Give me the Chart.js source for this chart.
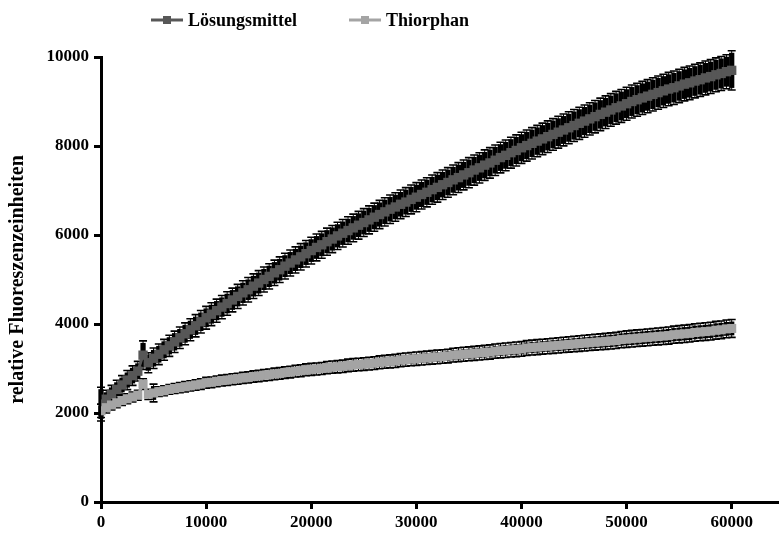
<!DOCTYPE html>
<html>
<head>
<meta charset="utf-8">
<script src="https://cdn.jsdelivr.net/npm/chart.js@4/dist/chart.umd.min.js"></script>
<style>
  html, body { margin: 0; padding: 0; background: #fff; }
  #wrap { width: 779px; height: 533px; }
</style>
</head>
<body>
<div id="wrap"><canvas id="myChart" width="779" height="533"></canvas></div>
<script>
// Messzeitpunkte (x) und Mittelwerte / Standardabweichungen
const zeit = [
  0, 500, 1000, 1500, 2000, 2500, 3000, 3500, 4000, 4500, 5000, 5500, 6000, 6500, 7000, 7500, 8000, 8500, 9000, 9500,
  10000, 10500, 11000, 11500, 12000, 12500, 13000, 13500, 14000, 14500, 15000, 15500, 16000, 16500, 17000, 17500, 18000, 18500, 19000, 19500,
  20000, 20500, 21000, 21500, 22000, 22500, 23000, 23500, 24000, 24500, 25000, 25500, 26000, 26500, 27000, 27500, 28000, 28500, 29000, 29500,
  30000, 30500, 31000, 31500, 32000, 32500, 33000, 33500, 34000, 34500, 35000, 35500, 36000, 36500, 37000, 37500, 38000, 38500, 39000, 39500,
  40000, 40500, 41000, 41500, 42000, 42500, 43000, 43500, 44000, 44500, 45000, 45500, 46000, 46500, 47000, 47500, 48000, 48500, 49000, 49500,
  50000, 50500, 51000, 51500, 52000, 52500, 53000, 53500, 54000, 54500, 55000, 55500, 56000, 56500, 57000, 57500, 58000, 58500, 59000, 59500,
  60000
];

const loesungsmittel = [
  2200, 2310, 2420, 2530, 2630, 2740, 2840, 2940, 3300, 3130, 3230, 3320, 3420, 3510, 3600, 3690, 3780, 3870, 3960, 4050,
  4140, 4220, 4300, 4380, 4460, 4540, 4620, 4700, 4770, 4850, 4920, 5000, 5070, 5150, 5220, 5300, 5370, 5440, 5510, 5580,
  5650, 5720, 5780, 5850, 5910, 5980, 6040, 6100, 6160, 6220, 6280, 6340, 6400, 6460, 6520, 6580, 6630, 6690, 6740, 6800,
  6850, 6910, 6960, 7020, 7070, 7130, 7180, 7240, 7290, 7350, 7400, 7460, 7510, 7570, 7620, 7680, 7740, 7790, 7850, 7900,
  7960, 8010, 8060, 8110, 8160, 8210, 8260, 8310, 8360, 8410, 8460, 8510, 8560, 8610, 8660, 8710, 8760, 8810, 8860, 8900,
  8950, 9000, 9040, 9080, 9120, 9160, 9200, 9240, 9280, 9310, 9350, 9390, 9420, 9460, 9490, 9530, 9560, 9600, 9630, 9670,
  9700
];
const loesungsmittelSD = [
  380, 200, 200, 205, 210, 215, 220, 220, 320, 225, 230, 232, 235, 238, 240, 242, 245, 248, 250, 252,
  255, 257, 260, 262, 265, 267, 270, 272, 275, 277, 280, 282, 284, 286, 288, 290, 292, 294, 296, 298,
  300, 301, 302, 304, 305, 306, 308, 309, 310, 312, 313, 314, 316, 317, 318, 320, 321, 322, 324, 325,
  326, 327, 328, 330, 331, 332, 333, 334, 336, 337, 338, 339, 340, 342, 343, 344, 345, 346, 348, 349,
  350, 351, 352, 353, 354, 355, 356, 357, 358, 359, 360, 361, 362, 363, 364, 365, 366, 367, 368, 369,
  370, 370, 371, 372, 372, 373, 374, 374, 375, 376, 376, 377, 378, 378, 379, 380, 380, 381, 382, 382,
  440
];

const thiorphan = [
  2050, 2120, 2180, 2230, 2280, 2320, 2360, 2400, 2650, 2420, 2450, 2480, 2500, 2530, 2550, 2570, 2590, 2610, 2630, 2650,
  2680, 2690, 2710, 2730, 2740, 2760, 2770, 2790, 2800, 2820, 2830, 2850, 2860, 2880, 2890, 2910, 2920, 2940, 2950, 2970,
  2980, 2990, 3000, 3020, 3030, 3040, 3050, 3070, 3080, 3090, 3100, 3110, 3120, 3140, 3150, 3160, 3170, 3190, 3200, 3210,
  3220, 3230, 3240, 3250, 3260, 3270, 3280, 3300, 3310, 3320, 3330, 3340, 3350, 3360, 3370, 3390, 3400, 3410, 3420, 3430,
  3440, 3460, 3470, 3480, 3490, 3500, 3510, 3520, 3530, 3540, 3550, 3560, 3570, 3580, 3590, 3600, 3610, 3620, 3630, 3650,
  3660, 3670, 3680, 3690, 3700, 3710, 3720, 3730, 3740, 3760, 3770, 3780, 3790, 3810, 3820, 3830, 3840, 3860, 3870, 3890,
  3900
];
const thiorphanSD = [
  150, 120, 110, 110, 110, 110, 110, 110, 120, 115, 200, 110, 110, 110, 110, 112, 115, 115, 115, 118,
  120, 120, 121, 122, 122, 123, 124, 125, 125, 126, 127, 128, 128, 129, 130, 131, 131, 132, 133, 134,
  135, 135, 136, 137, 138, 138, 139, 140, 141, 141, 142, 143, 144, 144, 145, 146, 147, 147, 148, 149,
  150, 150, 151, 152, 153, 153, 154, 155, 156, 156, 157, 158, 159, 159, 160, 161, 162, 162, 163, 164,
  165, 166, 167, 168, 168, 169, 170, 171, 172, 173, 174, 175, 176, 177, 178, 179, 180, 181, 182, 183,
  185, 186, 187, 188, 188, 189, 190, 191, 192, 193, 194, 195, 196, 196, 197, 198, 198, 199, 199, 200,
  200
];

const xTicks = [0, 10000, 20000, 30000, 40000, 50000, 60000];
const yTicks = [0, 2000, 4000, 6000, 8000, 10000];

const serif = "'Liberation Serif', 'Times New Roman', serif";

function punkte (werte) {
  return zeit.map((t, i) => ({ x: t, y: werte[i] }));
}

// Fehlerbalken (schwarz, mit Querstrich) hinter die Messpunkte zeichnen
const fehlerbalken = {
  id: 'fehlerbalken',
  beforeDatasetsDraw (chart) {
    const ctx = chart.ctx;
    const xs = chart.scales.x;
    const ys = chart.scales.y;
    const abstand = xs.getPixelForValue(zeit[1]) - xs.getPixelForValue(zeit[0]);
    ctx.save();
    ctx.strokeStyle = '#000';
    chart.data.datasets.forEach(ds => {
      ds.sd.forEach((sd, i) => {
        const px = xs.getPixelForValue(zeit[i]);
        const top = ys.getPixelForValue(ds.werte[i] + sd);
        const bot = ys.getPixelForValue(ds.werte[i] - sd);
        // dichte Balken ergeben ein geschlossenes Band
        ctx.lineWidth = abstand;
        ctx.beginPath();
        ctx.moveTo(px, top + 2); ctx.lineTo(px, bot - 2);
        ctx.stroke();
        ctx.lineWidth = 1;
        ctx.beginPath();
        ctx.moveTo(px, top); ctx.lineTo(px, bot);
        ctx.stroke();
        ctx.lineWidth = 1.6;
        ctx.beginPath();
        ctx.moveTo(px - 4, top); ctx.lineTo(px + 4, top);
        ctx.moveTo(px - 4, bot); ctx.lineTo(px + 4, bot);
        ctx.stroke();
      });
    });
    ctx.restore();
  }
};

// Legende oben: Linie mit Quadrat und Beschriftung
const legende = {
  id: 'legende',
  afterDraw (chart) {
    const ctx = chart.ctx;
    const eintraege = [
      { x: 151, text: 'Lösungsmittel', farbe: chart.data.datasets[0].borderColor },
      { x: 349, text: 'Thiorphan', farbe: chart.data.datasets[1].borderColor }
    ];
    const y = 20;
    ctx.save();
    eintraege.forEach(e => {
      ctx.strokeStyle = e.farbe;
      ctx.lineWidth = 3;
      ctx.beginPath();
      ctx.moveTo(e.x, y); ctx.lineTo(e.x + 32, y);
      ctx.stroke();
      ctx.fillStyle = e.farbe;
      ctx.fillRect(e.x + 12, y - 4, 8, 8);
      ctx.fillStyle = '#000';
      ctx.font = 'bold 18px ' + serif;
      ctx.textBaseline = 'middle';
      ctx.fillText(e.text, e.x + 37, y + 1);
    });
    ctx.restore();
  }
};

const ctx = document.getElementById('myChart').getContext('2d');
const chart = new Chart(ctx, {
  type: 'scatter',
  data: {
    datasets: [{
      label: 'Lösungsmittel',
      data: punkte(loesungsmittel),
      werte: loesungsmittel,
      sd: loesungsmittelSD,
      showLine: true,
      borderColor: '#575757',
      backgroundColor: '#575757',
      borderWidth: 3,
      pointStyle: 'rect',
      pointRadius: 6.6,
      pointBorderWidth: 0,
      order: 1
    }, {
      label: 'Thiorphan',
      data: punkte(thiorphan),
      werte: thiorphan,
      sd: thiorphanSD,
      showLine: true,
      borderColor: '#a4a4a4',
      backgroundColor: '#a4a4a4',
      borderWidth: 3,
      pointStyle: 'rect',
      pointRadius: 6.4,
      pointBorderWidth: 0,
      order: 0
    }]
  },
  options: {
    responsive: false,
    animation: false,
    devicePixelRatio: 1,
    layout: { autoPadding: false, padding: { top: 57, right: 0, bottom: 0, left: 0 } },
    plugins: {
      legend: { display: false },
      tooltip: { enabled: false }
    },
    scales: {
      x: {
        type: 'linear',
        min: 0,
        max: 64500,
        afterFit (scale) { scale.height = 31; },
        afterBuildTicks (scale) { scale.ticks = xTicks.map(v => ({ value: v })); },
        border: { display: true, color: '#000', width: 3 },
        grid: { drawOnChartArea: false, drawTicks: true, tickLength: 7, tickWidth: 3, tickColor: '#000' },
        ticks: {
          color: '#000',
          padding: 3,
          maxRotation: 0,
          font: { family: serif, size: 17, weight: 'bold' },
          callback: v => String(v)
        }
      },
      y: {
        type: 'linear',
        min: 0,
        max: 10000,
        afterFit (scale) { scale.width = 101; },
        afterBuildTicks (scale) { scale.ticks = yTicks.map(v => ({ value: v })); },
        border: { display: true, color: '#000', width: 3 },
        grid: { drawOnChartArea: false, drawTicks: true, tickLength: 7, tickWidth: 3, tickColor: '#000' },
        ticks: {
          color: '#000',
          padding: 5,
          font: { family: serif, size: 17, weight: 'bold' },
          callback: v => String(v)
        },
        title: {
          display: true,
          text: 'relative Fluoreszenzeinheiten',
          color: '#000',
          padding: { top: 6, bottom: 0 },
          font: { family: serif, size: 20, weight: 'bold' }
        }
      }
    }
  },
  plugins: [fehlerbalken, legende]
});
</script>
</body>
</html>
